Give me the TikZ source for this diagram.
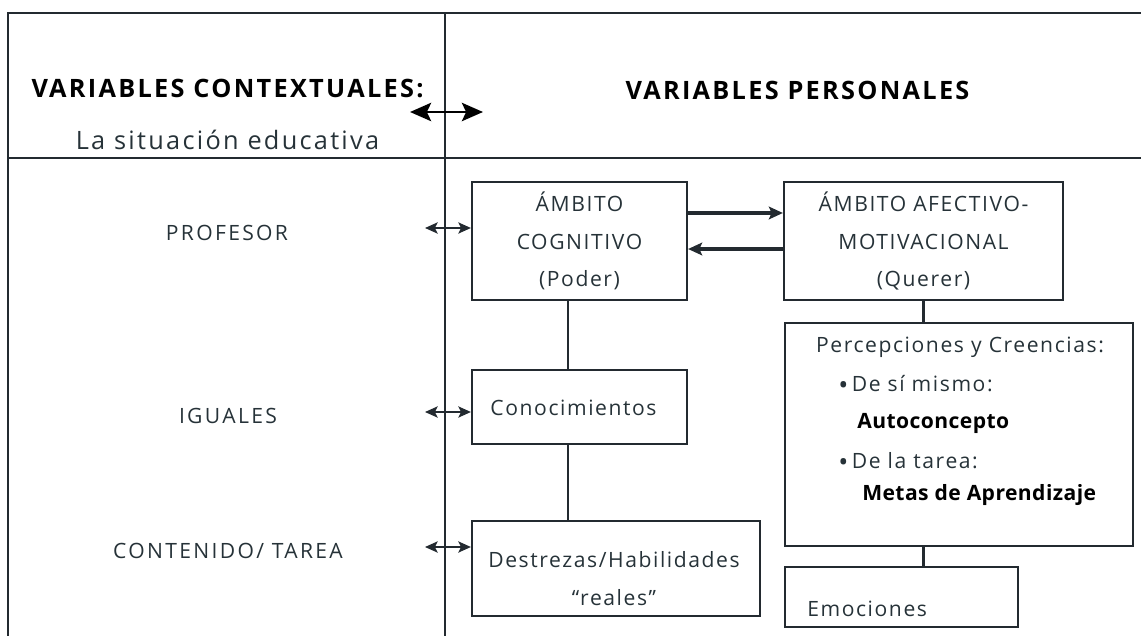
\documentclass[tikz,border=0pt]{standalone}
\usepackage{fontspec}
\setmainfont{Open Sans}
\newfontfamily\txtfont[LetterSpace=7.5]{Open Sans}
\newfontfamily\lblfont[LetterSpace=11]{Open Sans}
\newfontfamily\hdfont[LetterSpace=9]{Open Sans}
\newfontfamily\bldfont[LetterSpace=2]{Open Sans}
\usetikzlibrary{arrows.meta,positioning}

\definecolor{linecol}{RGB}{35,42,48}
\definecolor{txtcol}{RGB}{38,50,56}

\newcommand{\bigbullet}{\raisebox{-2.2pt}{\fontsize{19}{19}\selectfont\textbullet}}

\tikzset{
  frame/.style={draw=linecol, line width=1.5pt},
  ambox/.style={draw=linecol, line width=1.5pt, inner sep=0pt, align=center},
  txt/.style={text=txtcol, inner sep=0pt, align=center,
    font=\txtfont\fontsize{15}{26.7}\selectfont},
  bld/.style={text=black, inner sep=0pt, font=\bldfont\bfseries\fontsize{15}{26.7}\selectfont},
  lbl/.style={text=txtcol, inner sep=0pt, font=\lblfont\fontsize{15}{18}\selectfont},
  hd/.style={text=black, inner sep=0pt, font=\hdfont\bfseries\fontsize{18}{21}\selectfont},
  link/.style={draw=linecol, line width=1.5pt},
  dbl/.style={draw=linecol, line width=1.2pt, {Stealth[length=9pt,width=8pt,inset=2pt]}-{Stealth[length=9pt,width=8pt,inset=2pt]}},
  bigdbl/.style={draw=black, line width=2pt, {Stealth[length=15pt,width=13pt,inset=3pt]}-{Stealth[length=15pt,width=13pt,inset=3pt]}},
  fwd/.style={draw=linecol, line width=2.4pt, -{Stealth[length=10pt,width=9pt,inset=2pt]}}
}

\begin{document}
\begin{tikzpicture}[x=0.025cm, y=-0.025cm]
  \useasboundingbox (0,0) rectangle (1141,636);

  % table frame
  \draw[frame] (8,636) -- (8,13) -- (1141,13);
  \draw[frame] (8,158) -- (1141,158);
  \draw[frame] (445,13) -- (445,636);

  % headings
  \node[hd] (hctx) at (227.5,88) {VARIABLES CONTEXTUALES:};
  \node[txt, font=\hdfont\fontsize{18}{21}\selectfont] (hsit) at (227.5,140) {La situación educativa};
  \node[hd] (hpers) at (797.5,90) {VARIABLES PERSONALES};
  \coordinate (hl) at (410,112);
  \coordinate (hr) at (483,112);
  \draw[bigdbl] (hl) -- (hr);

  % contextual variables
  \node[lbl] (prof) at (227,233) {PROFESOR};
  \node[lbl] (igu) at (228,416) {IGUALES};
  \node[lbl] (cont) at (228,551) {CONTENIDO/ TAREA};

  % personal variables
  \node[ambox, txt, minimum width=5.375cm, minimum height=2.95cm] (cog) at (579.5,241) {ÁMBITO\\COGNITIVO\\(Poder)};
  \node[ambox, txt, minimum width=6.975cm, minimum height=2.95cm] (afe) at (923.5,241) {ÁMBITO AFECTIVO-\\MOTIVACIONAL\\(Querer)};
  \node[ambox, minimum width=5.375cm, minimum height=1.85cm] (con) at (579.5,407) {};
  \node[txt] (contxt) at (573.5,408) {Conocimientos};
  \node[ambox, minimum width=7.2cm, minimum height=2.375cm] (des) at (616,568.5) {};
  \node[txt] (destxt) at (614,578.5) {Destrezas/Habilidades\\“reales”};
  \node[ambox, minimum width=8.7cm, minimum height=5.575cm] (per) at (959,434.5) {};
  \node[txt] (pertit) at (960,347) {Percepciones y Creencias:};
  \node[txt, anchor=west] (perA) at (838,385) {\bigbullet\,De sí mismo:};
  \node[bld, anchor=west] (perB) at (857,423) {Autoconcepto};
  \node[txt, anchor=west] (perC) at (838,462) {\bigbullet\,De la tarea:};
  \node[bld, anchor=west] (perD) at (862,495) {Metas de Aprendizaje};
  \node[ambox, minimum width=5.825cm, minimum height=1.5cm] (emo) at (901.5,597) {};
  \node[txt, anchor=west] (emotxt) at (807,609) {Emociones};

  % links
  \draw[fwd] ([yshift=0.7cm]cog.east) -- ([yshift=0.7cm]afe.west);
  \draw[fwd] ([yshift=-0.2cm]afe.west) -- ([yshift=-0.2cm]cog.east);
  \draw[link] ([xshift=-0.29cm]cog.south) -- ([xshift=-0.29cm]con.north);
  \draw[link] ([xshift=-0.29cm]con.south) -- ([xshift=-0.29cm]con.south |- des.north);
  \draw[link] (afe.south) -- (afe.south |- per.north);
  \draw[link] (per.south -| afe.south) -- (emo.north -| afe.south);

  % context arrows
  \coordinate (pa) at (425,228);
  \coordinate (ia) at (425,412);
  \coordinate (ca) at (425,547);
  \draw[dbl] (pa) -- (pa -| cog.west);
  \draw[dbl] (ia) -- (ia -| con.west);
  \draw[dbl] (ca) -- (ca -| des.west);
\end{tikzpicture}
\end{document}
